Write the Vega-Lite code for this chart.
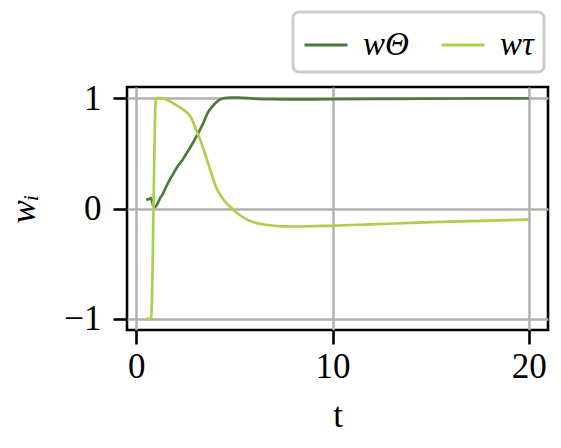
{
  "$schema": "https://vega.github.io/schema/vega-lite/v6.json",
  "width": 421,
  "height": 243,
  "autosize": {"type": "none"},
  "padding": {"left": 127, "top": 87, "right": 13, "bottom": 118},
  "background": "white",
  "config": {
    "font": "Liberation Serif",
    "view": {"stroke": "black", "strokeWidth": 2.6},
    "axis": {
      "domain": false,
      "grid": true,
      "gridColor": "#b0b0b0",
      "gridWidth": 2.5,
      "tickColor": "black",
      "tickWidth": 2.6,
      "tickSize": 14,
      "labelFont": "Liberation Serif",
      "labelFontSize": 35,
      "labelColor": "black",
      "titleFont": "Liberation Serif",
      "titleFontSize": 35,
      "titleFontWeight": "normal",
      "titleColor": "black"
    }
  },
  "data": {
    "values": [
      {"t": 0.5, "w": 0.08, "s": "wΘ"},
      {"t": 0.65, "w": 0.085, "s": "wΘ"},
      {"t": 0.75, "w": 0.095, "s": "wΘ"},
      {"t": 0.8, "w": 0.07, "s": "wΘ"},
      {"t": 0.85, "w": 0.03, "s": "wΘ"},
      {"t": 0.92, "w": 0.015, "s": "wΘ"},
      {"t": 1.0, "w": 0.02, "s": "wΘ"},
      {"t": 1.1, "w": 0.05, "s": "wΘ"},
      {"t": 1.2, "w": 0.09, "s": "wΘ"},
      {"t": 1.35, "w": 0.13, "s": "wΘ"},
      {"t": 1.5, "w": 0.19, "s": "wΘ"},
      {"t": 1.7, "w": 0.26, "s": "wΘ"},
      {"t": 1.9, "w": 0.32, "s": "wΘ"},
      {"t": 2.1, "w": 0.38, "s": "wΘ"},
      {"t": 2.35, "w": 0.44, "s": "wΘ"},
      {"t": 2.6, "w": 0.51, "s": "wΘ"},
      {"t": 2.9, "w": 0.6, "s": "wΘ"},
      {"t": 3.15, "w": 0.68, "s": "wΘ"},
      {"t": 3.4, "w": 0.77, "s": "wΘ"},
      {"t": 3.65, "w": 0.87, "s": "wΘ"},
      {"t": 3.9, "w": 0.93, "s": "wΘ"},
      {"t": 4.2, "w": 0.98, "s": "wΘ"},
      {"t": 4.5, "w": 1.0, "s": "wΘ"},
      {"t": 4.8, "w": 1.005, "s": "wΘ"},
      {"t": 5.2, "w": 1.005, "s": "wΘ"},
      {"t": 6.0, "w": 0.995, "s": "wΘ"},
      {"t": 7.0, "w": 0.99, "s": "wΘ"},
      {"t": 8.0, "w": 0.988, "s": "wΘ"},
      {"t": 10.0, "w": 0.99, "s": "wΘ"},
      {"t": 12.0, "w": 0.992, "s": "wΘ"},
      {"t": 15.0, "w": 0.995, "s": "wΘ"},
      {"t": 18.0, "w": 0.997, "s": "wΘ"},
      {"t": 20.0, "w": 0.998, "s": "wΘ"},
      {"t": 0.5, "w": -1.0, "s": "wτ"},
      {"t": 0.75, "w": -1.0, "s": "wτ"},
      {"t": 1.0, "w": 1.0, "s": "wτ"},
      {"t": 1.3, "w": 1.0, "s": "wτ"},
      {"t": 1.6, "w": 0.98, "s": "wτ"},
      {"t": 2.0, "w": 0.94, "s": "wτ"},
      {"t": 2.5, "w": 0.88, "s": "wτ"},
      {"t": 2.8, "w": 0.82, "s": "wτ"},
      {"t": 3.05, "w": 0.71, "s": "wτ"},
      {"t": 3.3, "w": 0.6, "s": "wτ"},
      {"t": 3.55, "w": 0.47, "s": "wτ"},
      {"t": 3.8, "w": 0.33, "s": "wτ"},
      {"t": 4.05, "w": 0.2, "s": "wτ"},
      {"t": 4.4, "w": 0.09, "s": "wτ"},
      {"t": 4.75, "w": 0.02, "s": "wτ"},
      {"t": 5.2, "w": -0.05, "s": "wτ"},
      {"t": 5.75, "w": -0.11, "s": "wτ"},
      {"t": 6.5, "w": -0.145, "s": "wτ"},
      {"t": 7.3, "w": -0.16, "s": "wτ"},
      {"t": 8.0, "w": -0.163, "s": "wτ"},
      {"t": 9.0, "w": -0.16, "s": "wτ"},
      {"t": 10.0, "w": -0.155, "s": "wτ"},
      {"t": 12.0, "w": -0.143, "s": "wτ"},
      {"t": 14.0, "w": -0.13, "s": "wτ"},
      {"t": 15.0, "w": -0.124, "s": "wτ"},
      {"t": 17.0, "w": -0.114, "s": "wτ"},
      {"t": 20.0, "w": -0.1, "s": "wτ"}
    ]
  },
  "mark": {"type": "line", "strokeWidth": 2.7, "interpolate": "monotone"},
  "encoding": {
    "x": {
      "field": "t", "type": "quantitative",
      "scale": {"domain": [-0.475, 20.975], "nice": false, "zero": false},
      "axis": {"values": [0, 10, 20], "title": "t", "labelPadding": 5, "titlePadding": 14}
    },
    "y": {
      "field": "w", "type": "quantitative",
      "scale": {"domain": [-1.1, 1.1], "nice": false},
      "axis": {"values": [-1, 0, 1], "title": "wᵢ", "titleFontStyle": "italic", "labelPadding": 12, "titlePadding": 22, "labelExpr": "replace(datum.label, '-', '−')"}
    },
    "color": {
      "field": "s", "type": "nominal",
      "sort": ["wΘ", "wτ"],
      "scale": {"domain": ["wΘ", "wτ"], "range": ["#4b7a3c", "#acd04c"]},
      "legend": {
        "title": null,
        "orient": "none",
        "legendX": 166,
        "legendY": -75,
        "direction": "horizontal",
        "symbolType": "stroke",
        "symbolSize": 1849,
        "symbolStrokeWidth": 2.8,
        "labelFont": "Liberation Serif",
        "labelFontSize": 33,
        "labelFontStyle": "italic",
        "labelColor": "black",
        "labelOffset": 14,
        "columnPadding": 26,
        "padding": 10,
        "strokeColor": "#cccccc",
        "cornerRadius": 6,
        "fillColor": "white",
        "encode": {"legend": {"update": {"strokeWidth": {"value": 3}}}}
      }
    }
  }
}
